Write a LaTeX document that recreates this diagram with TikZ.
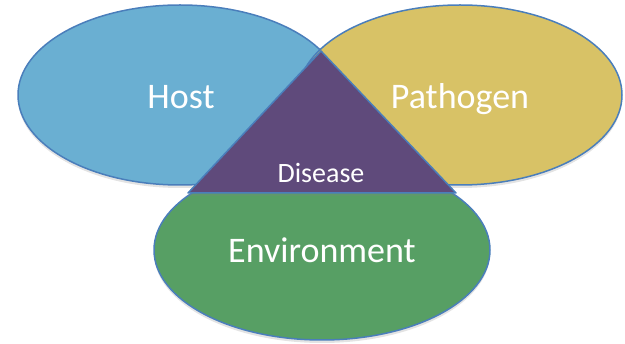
\documentclass[tikz,border=0pt]{standalone}
\usepackage{fontspec}
\setmainfont{Carlito}
\usetikzlibrary{shadows}
\definecolor{hostc}{HTML}{6AAFD2}
\definecolor{pathc}{HTML}{D8C266}
\definecolor{envc}{HTML}{579F64}
\definecolor{disc}{HTML}{5F4A7B}
\definecolor{edgec}{HTML}{4A7EBB}
\begin{document}
\begin{tikzpicture}[x=1pt,y=-1pt,
  blob/.style={draw=edgec, line width=1.5pt, line join=round,
    drop shadow={opacity=0.22, shadow xshift=0pt, shadow yshift=-3pt}},
  lbl/.style={text=white, anchor=base, inner sep=0pt}]
\useasboundingbox (0,0) rectangle (625,344);
\path[blob, fill=hostc] (180,95) ellipse [x radius=162, y radius=90];
\path[blob, fill=pathc] (460,95) ellipse [x radius=162, y radius=90];
\path[blob, fill=envc] (322,250) ellipse [x radius=168, y radius=90];
\coordinate (apex) at (321,51);
\coordinate (bl) at (188,193);
\coordinate (br) at (456,193);
\path[blob, fill=disc] (apex) -- (br) -- (bl) -- cycle;
\node[lbl, font=\fontsize{36}{36}\selectfont] (host) at (181,109) {Host};
\node[lbl, font=\fontsize{36}{36}\selectfont] (pathogen) at (460,109) {Pathogen};
\node[lbl, font=\fontsize{36}{36}\selectfont] (environment) at (322,263) {Environment};
\node[lbl, font=\fontsize{28}{28}\selectfont] (disease) at (321,183) {Disease};
\end{tikzpicture}
\end{document}
